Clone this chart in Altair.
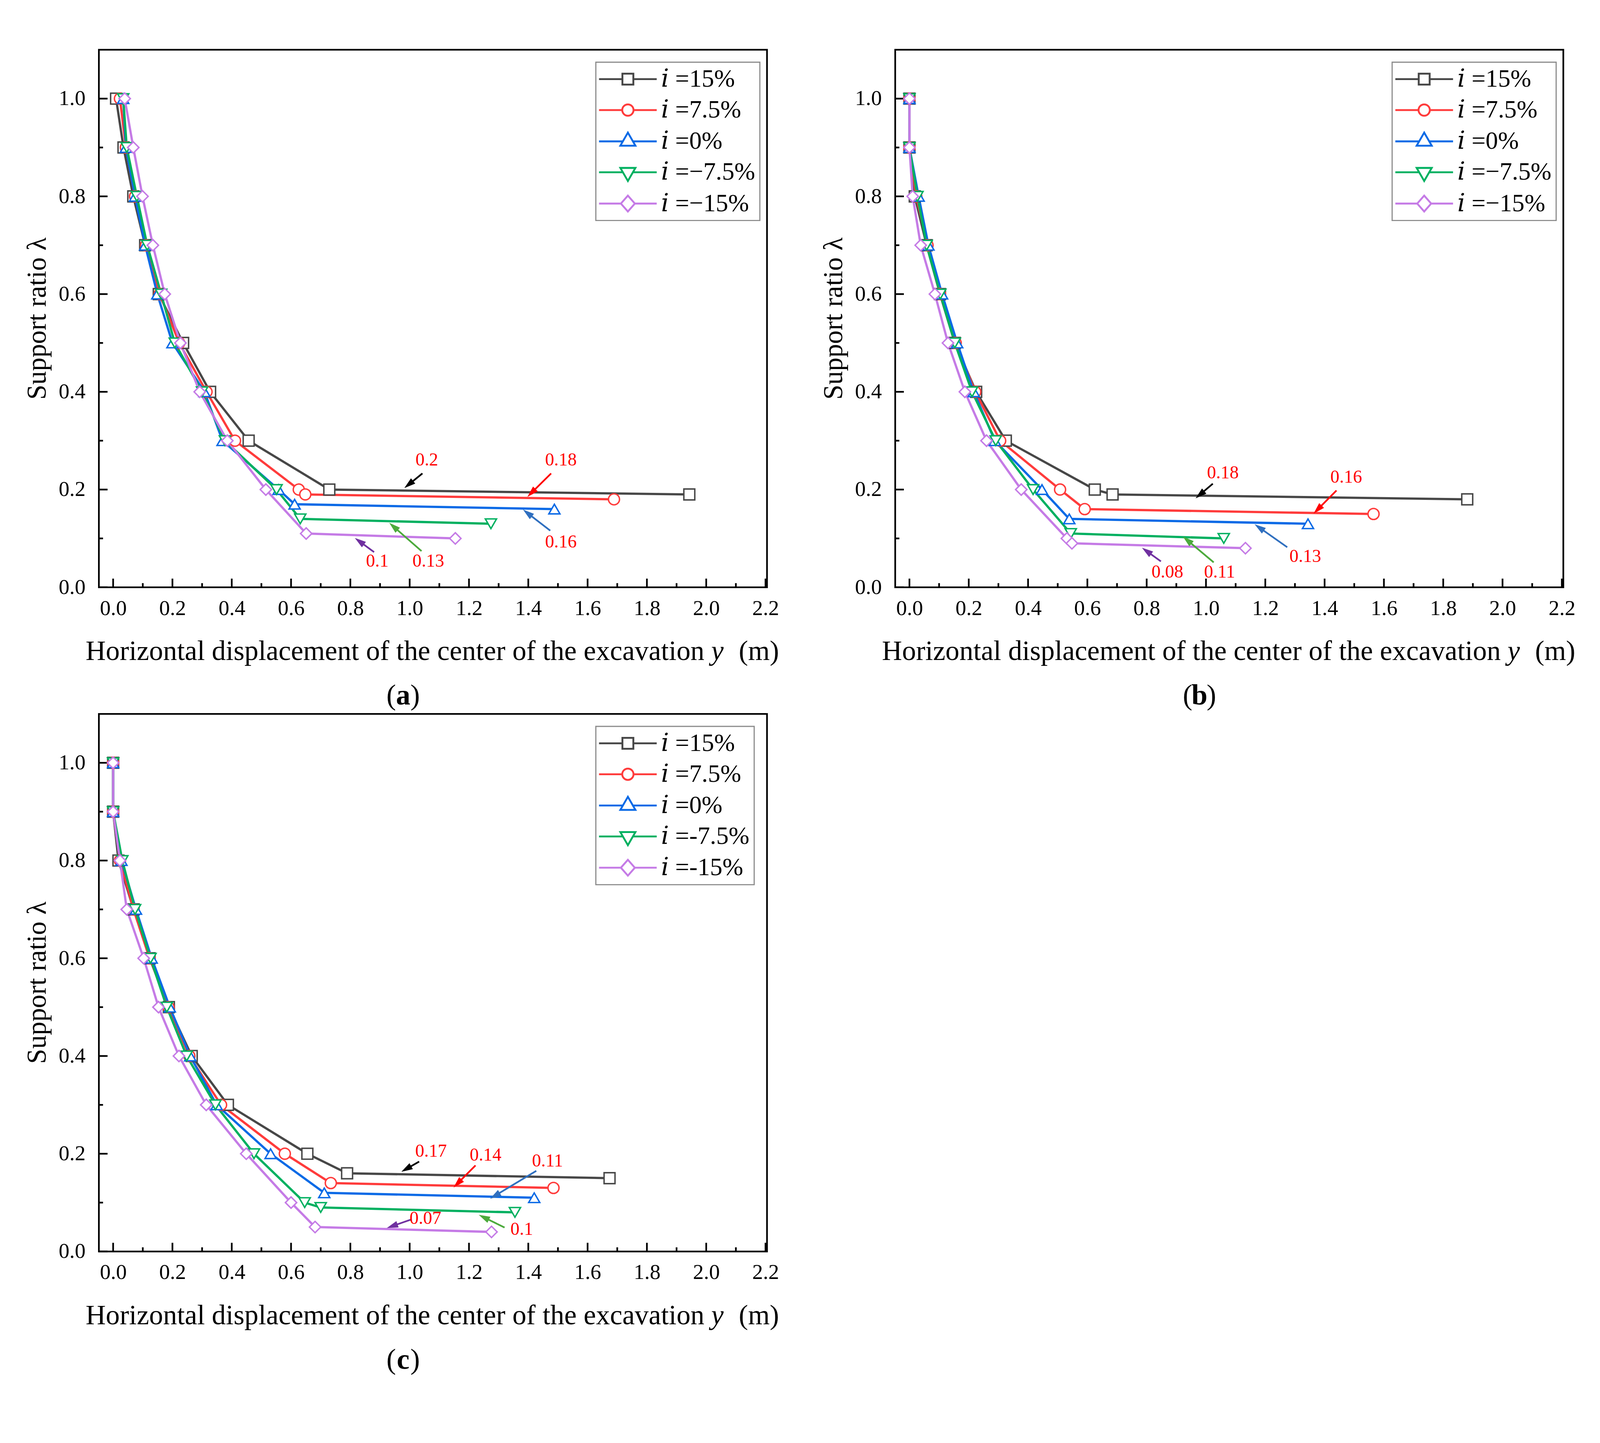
import math
import altair as alt
import pandas as pd

FONT = "Liberation Serif"
LEG_FONT = "Liberation Serif, DejaVu Serif, serif"
W, H = 1772, 1426
X0, X1 = -0.048, 2.205
Y0, Y1 = 0.0, 1.1

COLORS = ["#474747", "#ff3b3b", "#0a6ae6", "#00b060", "#c57be6"]
SHAPES = ["square", "circle", "triangle-up", "triangle-down", "diamond"]
SIZES = [841, 900, 1600, 1600, 1560]
ARROW_COLORS = ["#000000", "#ff0000", "#2f6fbf", "#4caa3c", "#7030a0"]

LABELS_AB = ["𝑖 =15%", "𝑖 =7.5%", "𝑖 =0%", "𝑖 =−7.5%", "𝑖 =−15%"]
LABELS_C = ["𝑖 =15%", "𝑖 =7.5%", "𝑖 =0%", "𝑖 =-7.5%", "𝑖 =-15%"]

X_TITLE = "Horizontal displacement of the center of the excavation"
X_VAR = "y"
X_UNIT = "(m)"
Y_TITLE = "Support ratio λ"
TAGS = ["a", "b", "c"]

X_MAJOR = [0.0, 0.2, 0.4, 0.6, 0.8, 1.0, 1.2, 1.4, 1.6, 1.8, 2.0, 2.2]
X_MINOR = [0.1, 0.3, 0.5, 0.7, 0.9, 1.1, 1.3, 1.5, 1.7, 1.9, 2.1]
Y_MAJOR = [0.0, 0.2, 0.4, 0.6, 0.8, 1.0]
Y_MINOR = [0.1, 0.3, 0.5, 0.7, 0.9]

# ---- panel (a) ----
A_X = [
    [0.010, 0.035, 0.068, 0.108, 0.154, 0.236, 0.327, 0.457, 0.729, 1.943],
    [0.023, 0.043, 0.074, 0.111, 0.157, 0.223, 0.315, 0.411, 0.626, 0.648, 1.689],
    [0.034, 0.043, 0.074, 0.108, 0.149, 0.200, 0.308, 0.369, 0.558, 0.612, 1.488],
    [0.034, 0.046, 0.080, 0.115, 0.162, 0.208, 0.300, 0.377, 0.551, 0.631, 1.274],
    [0.039, 0.068, 0.099, 0.134, 0.174, 0.227, 0.292, 0.385, 0.515, 0.651, 1.154],
]
A_Y = [
    [1.0, 0.9, 0.8, 0.7, 0.6, 0.5, 0.4, 0.3, 0.2, 0.19],
    [1.0, 0.9, 0.8, 0.7, 0.6, 0.5, 0.4, 0.3, 0.2, 0.19, 0.18],
    [1.0, 0.9, 0.8, 0.7, 0.6, 0.5, 0.4, 0.3, 0.2, 0.17, 0.16],
    [1.0, 0.9, 0.8, 0.7, 0.6, 0.5, 0.4, 0.3, 0.2, 0.14, 0.13],
    [1.0, 0.9, 0.8, 0.7, 0.6, 0.5, 0.4, 0.3, 0.2, 0.11, 0.10],
]
A_ANN_T = ["0.2", "0.18", "0.16", "0.13", "0.1"]
A_ANN_X = [1.058, 1.510, 1.510, 1.063, 0.891]
A_ANN_Y = [0.260, 0.260, 0.092, 0.053, 0.053]
A_ARR_X0 = [1.043, 1.477, 1.474, 1.040, 0.880]
A_ARR_Y0 = [0.233, 0.233, 0.116, 0.074, 0.072]
A_ARR_X1 = [0.982, 1.397, 1.382, 0.931, 0.815]
A_ARR_Y1 = [0.203, 0.185, 0.159, 0.132, 0.101]

# ---- panel (b) ----
B_X = [
    [0.0, 0.0, 0.018, 0.058, 0.103, 0.153, 0.225, 0.325, 0.625, 0.685, 1.881],
    [0.0, 0.0, 0.023, 0.061, 0.103, 0.156, 0.222, 0.306, 0.508, 0.591, 1.565],
    [0.0, 0.0, 0.031, 0.064, 0.110, 0.161, 0.217, 0.288, 0.447, 0.539, 1.344],
    [0.0, 0.0, 0.027, 0.058, 0.104, 0.153, 0.211, 0.291, 0.417, 0.544, 1.060],
    [0.0, 0.0, 0.011, 0.038, 0.086, 0.130, 0.187, 0.260, 0.377, 0.531, 0.548, 1.133],
]
B_Y = [
    [1.0, 0.9, 0.8, 0.7, 0.6, 0.5, 0.4, 0.3, 0.2, 0.19, 0.18],
    [1.0, 0.9, 0.8, 0.7, 0.6, 0.5, 0.4, 0.3, 0.2, 0.16, 0.15],
    [1.0, 0.9, 0.8, 0.7, 0.6, 0.5, 0.4, 0.3, 0.2, 0.14, 0.13],
    [1.0, 0.9, 0.8, 0.7, 0.6, 0.5, 0.4, 0.3, 0.2, 0.11, 0.10],
    [1.0, 0.9, 0.8, 0.7, 0.6, 0.5, 0.4, 0.3, 0.2, 0.10, 0.09, 0.08],
]
B_ANN_T = ["0.18", "0.16", "0.13", "0.11", "0.08"]
B_ANN_X = [1.057, 1.473, 1.335, 1.046, 0.870]
B_ANN_Y = [0.234, 0.225, 0.063, 0.031, 0.031]
B_ARR_X0 = [1.023, 1.440, 1.274, 1.026, 0.848]
B_ARR_Y0 = [0.212, 0.198, 0.082, 0.051, 0.053]
B_ARR_X1 = [0.965, 1.363, 1.164, 0.922, 0.784]
B_ARR_Y1 = [0.182, 0.151, 0.129, 0.104, 0.081]

# ---- panel (c) ----
C_X = [
    [0.0, 0.0, 0.018, 0.069, 0.123, 0.188, 0.265, 0.387, 0.655, 0.789, 1.674],
    [0.0, 0.0, 0.023, 0.069, 0.123, 0.187, 0.257, 0.364, 0.579, 0.734, 1.485],
    [0.0, 0.0, 0.028, 0.077, 0.130, 0.191, 0.260, 0.349, 0.531, 0.712, 1.420],
    [0.0, 0.0, 0.031, 0.074, 0.126, 0.181, 0.248, 0.345, 0.475, 0.646, 0.700, 1.355],
    [0.0, 0.0, 0.023, 0.046, 0.103, 0.153, 0.222, 0.314, 0.449, 0.600, 0.681, 1.276],
]
C_Y = [
    [1.0, 0.9, 0.8, 0.7, 0.6, 0.5, 0.4, 0.3, 0.2, 0.16, 0.15],
    [1.0, 0.9, 0.8, 0.7, 0.6, 0.5, 0.4, 0.3, 0.2, 0.14, 0.13],
    [1.0, 0.9, 0.8, 0.7, 0.6, 0.5, 0.4, 0.3, 0.2, 0.12, 0.11],
    [1.0, 0.9, 0.8, 0.7, 0.6, 0.5, 0.4, 0.3, 0.2, 0.10, 0.09, 0.08],
    [1.0, 0.9, 0.8, 0.7, 0.6, 0.5, 0.4, 0.3, 0.2, 0.10, 0.05, 0.04],
]
C_ANN_T = ["0.17", "0.14", "0.11", "0.1", "0.07"]
C_ANN_X = [1.072, 1.256, 1.465, 1.378, 1.053]
C_ANN_Y = [0.205, 0.197, 0.185, 0.045, 0.067]
C_ARR_X0 = [1.032, 1.222, 1.427, 1.320, 1.003]
C_ARR_Y0 = [0.184, 0.176, 0.165, 0.049, 0.065]
C_ARR_X1 = [0.972, 1.148, 1.271, 1.233, 0.923]
C_ARR_Y1 = [0.163, 0.131, 0.108, 0.075, 0.048]

# legend symbols: line + marker, in units of sqrt(size)/2 (= 20 px)
LEG_PATHS = [
    "M-3.825,0H-0.725M0.725,0H3.825M-0.725,-0.725H0.725V0.725H-0.725Z",
    "M-3.825,0H-0.75M0.75,0H3.825M0.75,0A0.75,0.75,0,1,1,-0.75,0A0.75,0.75,0,1,1,0.75,0Z",
    "M-3.825,0H-0.667M0.667,0H3.825M0,-1.155L-1,0.577L1,0.577Z",
    "M-3.825,0H-0.667M0.667,0H3.825M0,1.155L-1,-0.577L1,-0.577Z",
    "M-3.825,0H-0.925M0.925,0H3.825M-0.925,0L0,-1.05L0.925,0L0,1.05Z",
]
HEAD = "M0,-1L-0.6,1L0.6,1Z"


def make_panel(xs, ys, labels, at, ax, ay, x0s, y0s, x1s, y1s, tag):
    rows = []
    for si, (lab, xx, yy) in enumerate(zip(labels, xs, ys)):
        for k, (a, b) in enumerate(zip(xx, yy)):
            rows.append(dict(s=lab, x=a, y=b, k=k + 100 * si))
    df = pd.DataFrame(rows)

    xsc = alt.Scale(domain=[X0, X1], nice=False, zero=False)
    ysc = alt.Scale(domain=[Y0, Y1], nice=False, zero=False)
    xax = alt.Axis(values=X_MAJOR, format=".1f", title=None, ticks=False, tickSize=0,
                   domain=False, grid=False, labelFont=FONT, labelFontSize=57,
                   labelColor="black", labelPadding=28, labelFlush=False)
    yax = alt.Axis(values=Y_MAJOR, format=".1f", title=None, ticks=False, tickSize=0,
                   domain=False, grid=False, labelFont=FONT, labelFontSize=57,
                   labelColor="black", labelPadding=36, labelFlush=False)

    def X(f):
        return alt.X(f"{f}:Q", scale=xsc, axis=xax, title=None)

    def Y(f):
        return alt.Y(f"{f}:Q", scale=ysc, axis=yax, title=None)

    cscale = alt.Scale(domain=labels, range=COLORS)
    base = alt.Chart(df)
    lines = base.mark_line(strokeWidth=6).encode(
        x=X("x"), y=Y("y"),
        color=alt.Color("s:N", scale=cscale, legend=None),
        order=alt.Order("k:Q"),
    )
    pts = base.mark_point(filled=False, fill="white", strokeWidth=3.8, opacity=1).encode(
        x=X("x"), y=Y("y"),
        color=alt.Color("s:N", scale=cscale, legend=None),
        shape=alt.Shape("s:N", scale=alt.Scale(domain=labels, range=SHAPES), legend=None),
        size=alt.Size("s:N", scale=alt.Scale(domain=labels, range=SIZES), legend=None),
    )
    leg = alt.Legend(orient="none", legendX=1318, legendY=33, title=None, direction="vertical",
                     labelFont=LEG_FONT, labelFontSize=66, labelColor="black", labelLimit=500,
                     symbolSize=1600, symbolStrokeWidth=5, symbolOffset=40, labelOffset=55,
                     padding=12, rowPadding=16, strokeColor="#8a8a8a", fillColor="white")
    legend_layer = base.transform_filter("false").mark_point(
        filled=False, strokeWidth=5, size=1600, opacity=1).encode(
        x=X("x"), y=Y("y"),
        color=alt.Color("s:N", scale=alt.Scale(domain=labels, range=COLORS), legend=leg),
        shape=alt.Shape("s:N", scale=alt.Scale(domain=labels, range=LEG_PATHS), legend=leg),
    )

    # inward ticks
    xt_major = alt.Chart(pd.DataFrame({"v": X_MAJOR})).mark_rule(color="black", strokeWidth=4.5).encode(
        x=X("v"), y=alt.value(H), y2=alt.value(H - 23))
    xt_minor = alt.Chart(pd.DataFrame({"v": X_MINOR})).mark_rule(color="black", strokeWidth=4.5).encode(
        x=X("v"), y=alt.value(H), y2=alt.value(H - 11))
    yt_major = alt.Chart(pd.DataFrame({"v": Y_MAJOR})).mark_rule(color="black", strokeWidth=4.5).encode(
        y=Y("v"), x=alt.value(0), x2=alt.value(23))
    yt_minor = alt.Chart(pd.DataFrame({"v": Y_MINOR})).mark_rule(color="black", strokeWidth=4.5).encode(
        y=Y("v"), x=alt.value(0), x2=alt.value(11))

    # annotations
    kx = W / (X1 - X0)
    ky = H / (Y1 - Y0)
    arows = []
    for t, tx, ty, xa, ya, xb, yb, c in zip(at, ax, ay, x0s, y0s, x1s, y1s, ARROW_COLORS):
        dxp = (xb - xa) * kx
        dyp = -(yb - ya) * ky
        ln = math.hypot(dxp, dyp)
        ux, uy = dxp / ln, dyp / ln
        hx = xb - 15 * ux / kx
        hy = yb + 15 * uy / ky
        ang = math.degrees(math.atan2(dxp, -dyp)) % 360
        arows.append(dict(t=t, tx=tx, ty=ty, xa=xa, ya=ya, xe=hx, ye=hy, hx=hx, hy=hy, ang=ang, c=c))
    adf = pd.DataFrame(arows)
    abase = alt.Chart(adf)
    ann_text = abase.mark_text(font=FONT, fontSize=48, color="#ff0000", baseline="middle").encode(
        x=X("tx"), y=Y("ty"), text="t:N")
    ann_rule = abase.mark_rule(strokeWidth=4.5).encode(
        x=X("xa"), y=Y("ya"), x2="xe:Q", y2="ye:Q", color=alt.Color("c:N", scale=None))
    ann_head = abase.mark_point(filled=True, shape=HEAD, size=900, opacity=1).encode(
        x=X("hx"), y=Y("hy"), angle=alt.Angle("ang:Q", scale=None), color=alt.Color("c:N", scale=None))

    one = pd.DataFrame({"d": [0]})
    ytitle = alt.Chart(one).mark_text(font=FONT, fontSize=72, angle=270, align="center",
                                      baseline="middle", color="black", text=Y_TITLE).encode(
        x=alt.value(-163), y=alt.value(H / 2))
    xt1 = alt.Chart(one).mark_text(font=FONT, fontSize=74, align="right", baseline="alphabetic",
                                   color="black", text=X_TITLE).encode(x=alt.value(1606), y=alt.value(H + 193))
    xt2 = alt.Chart(one).mark_text(font=FONT, fontSize=74, fontStyle="italic", align="left",
                                   baseline="alphabetic", color="black", text=X_VAR).encode(
        x=alt.value(1624), y=alt.value(H + 193))
    xt3 = alt.Chart(one).mark_text(font=FONT, fontSize=74, align="left", baseline="alphabetic",
                                   color="black", text=X_UNIT).encode(x=alt.value(1697), y=alt.value(H + 193))
    cx = 807
    tg1 = alt.Chart(one).mark_text(font=FONT, fontSize=76, align="right", baseline="middle",
                                   color="black", text="(").encode(x=alt.value(cx - 19), y=alt.value(H + 288))
    tg2 = alt.Chart(one).mark_text(font=FONT, fontSize=76, fontWeight="bold", align="center",
                                   baseline="middle", color="black", text=tag).encode(
        x=alt.value(cx), y=alt.value(H + 288))
    tg3 = alt.Chart(one).mark_text(font=FONT, fontSize=76, align="left", baseline="middle",
                                   color="black", text=")").encode(x=alt.value(cx + 19), y=alt.value(H + 288))

    layer = alt.layer(
        xt_major, xt_minor, yt_major, yt_minor,
        lines, pts, legend_layer,
        ann_rule, ann_head, ann_text,
        ytitle, xt1, xt2, xt3, tg1, tg2, tg3,
    ).resolve_scale(color="independent", shape="independent", size="independent").properties(
        width=W, height=H)
    return layer


pa = make_panel(A_X, A_Y, LABELS_AB, A_ANN_T, A_ANN_X, A_ANN_Y, A_ARR_X0, A_ARR_Y0, A_ARR_X1, A_ARR_Y1, TAGS[0])
pb = make_panel(B_X, B_Y, LABELS_AB, B_ANN_T, B_ANN_X, B_ANN_Y, B_ARR_X0, B_ARR_Y0, B_ARR_X1, B_ARR_Y1, TAGS[1])
pc = make_panel(C_X, C_Y, LABELS_C, C_ANN_T, C_ANN_X, C_ANN_Y, C_ARR_X0, C_ARR_Y0, C_ARR_X1, C_ARR_Y1, TAGS[2])

row1 = alt.hconcat(pa, pb, spacing=103).resolve_scale(
    x="independent", y="independent", color="independent", shape="independent", size="independent")
chart = alt.vconcat(row1, pc, spacing=4).resolve_scale(
    x="independent", y="independent", color="independent", shape="independent", size="independent"
).properties(
    padding={"left": 52, "top": 55, "right": 54, "bottom": 73},
    background="white",
).configure_view(stroke="black", strokeWidth=4.5)

try:
    trial = chart.configure_legend(strokeWidth=3)
    trial.to_dict()
    chart = trial
except Exception:
    pass

chart.save("out.html", embed_options={"renderer": "svg", "actions": False})
